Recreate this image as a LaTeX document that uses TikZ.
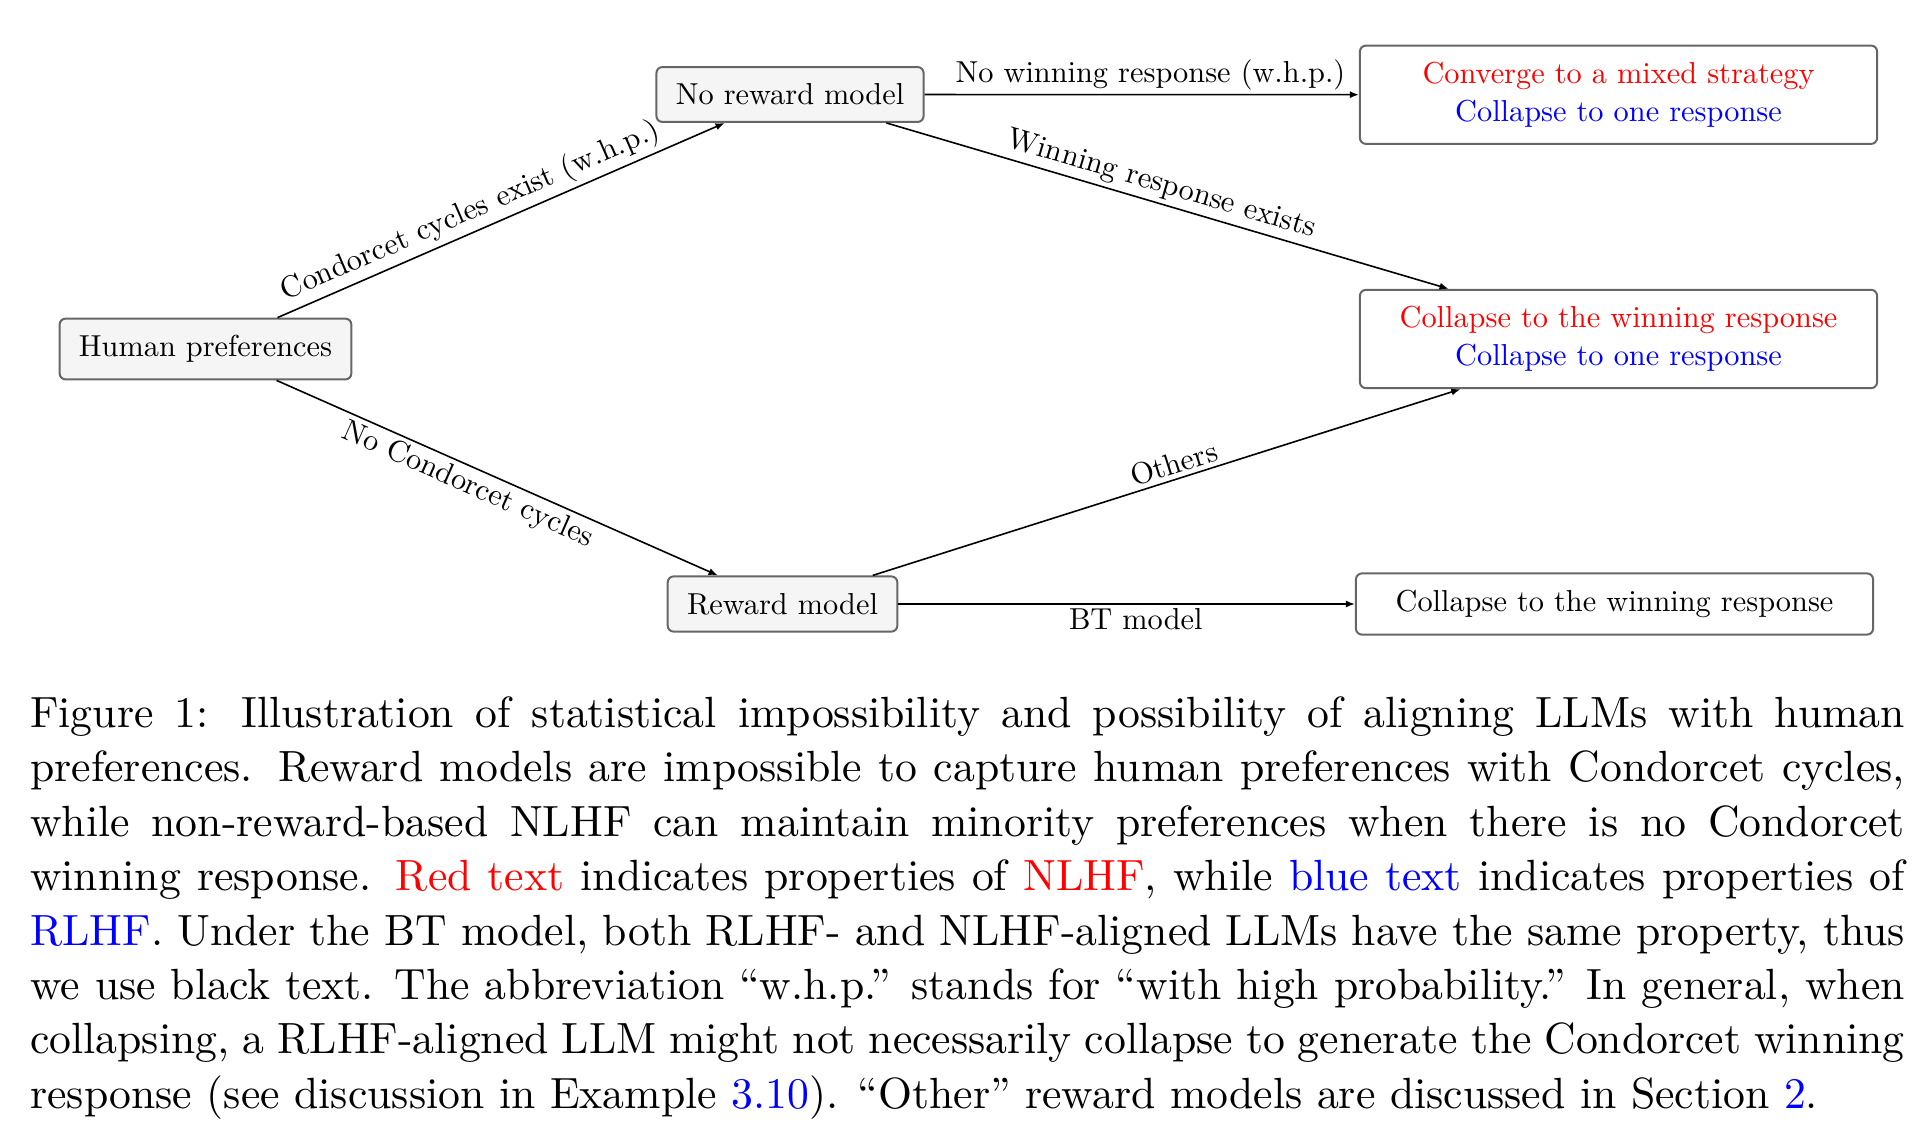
\documentclass[tikz,border=0pt]{standalone}
\usepackage{xcolor}
\usepackage{tikz}
\usetikzlibrary{arrows.meta}
\font\figrm="[lmroman10-regular.otf]" at 7.6pt

\begin{document}
\begin{tikzpicture}[x=0.2506pt, y=-0.2506pt,
  >={Latex[length=2.3pt,width=1.8pt]},
  prefbox/.style={draw=black!60, line width=0.5pt, fill=black!4, rounded corners=1.5pt, inner xsep=4.85pt, inner ysep=4.2pt, font=\figrm},
  outbox/.style={draw=black!60, line width=0.5pt, fill=white, rounded corners=1.5pt, inner xsep=4.85pt, inner ysep=4.2pt, minimum width=129.6pt, align=center, font={\figrm\baselineskip=9.4pt}},
  edgelabel/.style={inner sep=1pt, font=\figrm}]
\useasboundingbox (0,0) rectangle (1930,1140);
\node[prefbox] (human) at (205.5,349) {Human preferences};
\node[prefbox] (noreward) at (790,94.5) {No reward model};
\node[prefbox] (reward) at (782.5,604) {Reward model};
\node[outbox] (mixed) at (1618.5,94.75) {\textcolor{red}{Converge to a mixed strategy}\\\textcolor{blue}{Collapse to one response}};
\node[outbox] (winner) at (1618.5,339) {\textcolor{red}{Collapse to the winning response}\\\textcolor{blue}{Collapse to one response}};
\node[outbox] (btres) at (1614.5,604) {Collapse to the winning response};
\draw[->] (human) -- node[edgelabel, sloped, above, pos=0.45] {Condorcet cycles exist (w.h.p.)} (noreward);
\draw[->] (human) -- node[edgelabel, sloped, below, pos=0.45] {No Condorcet cycles} (reward);
\draw[->] (noreward) -- node[edgelabel, above, pos=0.52] {No winning response (w.h.p.)} (mixed);
\draw[->] (noreward) -- node[edgelabel, sloped, above, pos=0.48] {Winning response exists} (winner);
\draw[->] (reward) -- node[edgelabel, sloped, above, pos=0.52] {Others} (winner);
\draw[->] (reward) -- node[edgelabel, below, fill=white, pos=0.52] {BT model} (btres);
\node[anchor=north west, inner sep=0pt, text width=469.75pt, align=justify, font=\fontsize{10.95}{13.62}\selectfont] (caption) at (29.5,696) {\noindent Figure 1: Illustration of statistical impossibility and possibility of aligning LLMs with human\linebreak preferences. Reward models are impossible to capture human preferences with Condorcet cycles,\linebreak while non-reward-based NLHF can maintain minority preferences when there is no Condorcet\linebreak winning response. \textcolor{red}{Red text} indicates properties of \textcolor{red}{NLHF}, while \textcolor{blue}{blue text} indicates properties of\linebreak \textcolor{blue}{RLHF}. Under the BT model, both RLHF- and NLHF-aligned LLMs have the same property, thus\linebreak we use black text. The abbreviation ``w.h.p.'' stands for ``with high probability.'' In general, when\linebreak collapsing, a RLHF-aligned LLM might not necessarily collapse to generate the Condorcet winning\linebreak response (see discussion in Example \textcolor{blue}{3.10}). ``Other'' reward models are discussed in Section \textcolor{blue}{2}.};
\end{tikzpicture}
\end{document}
